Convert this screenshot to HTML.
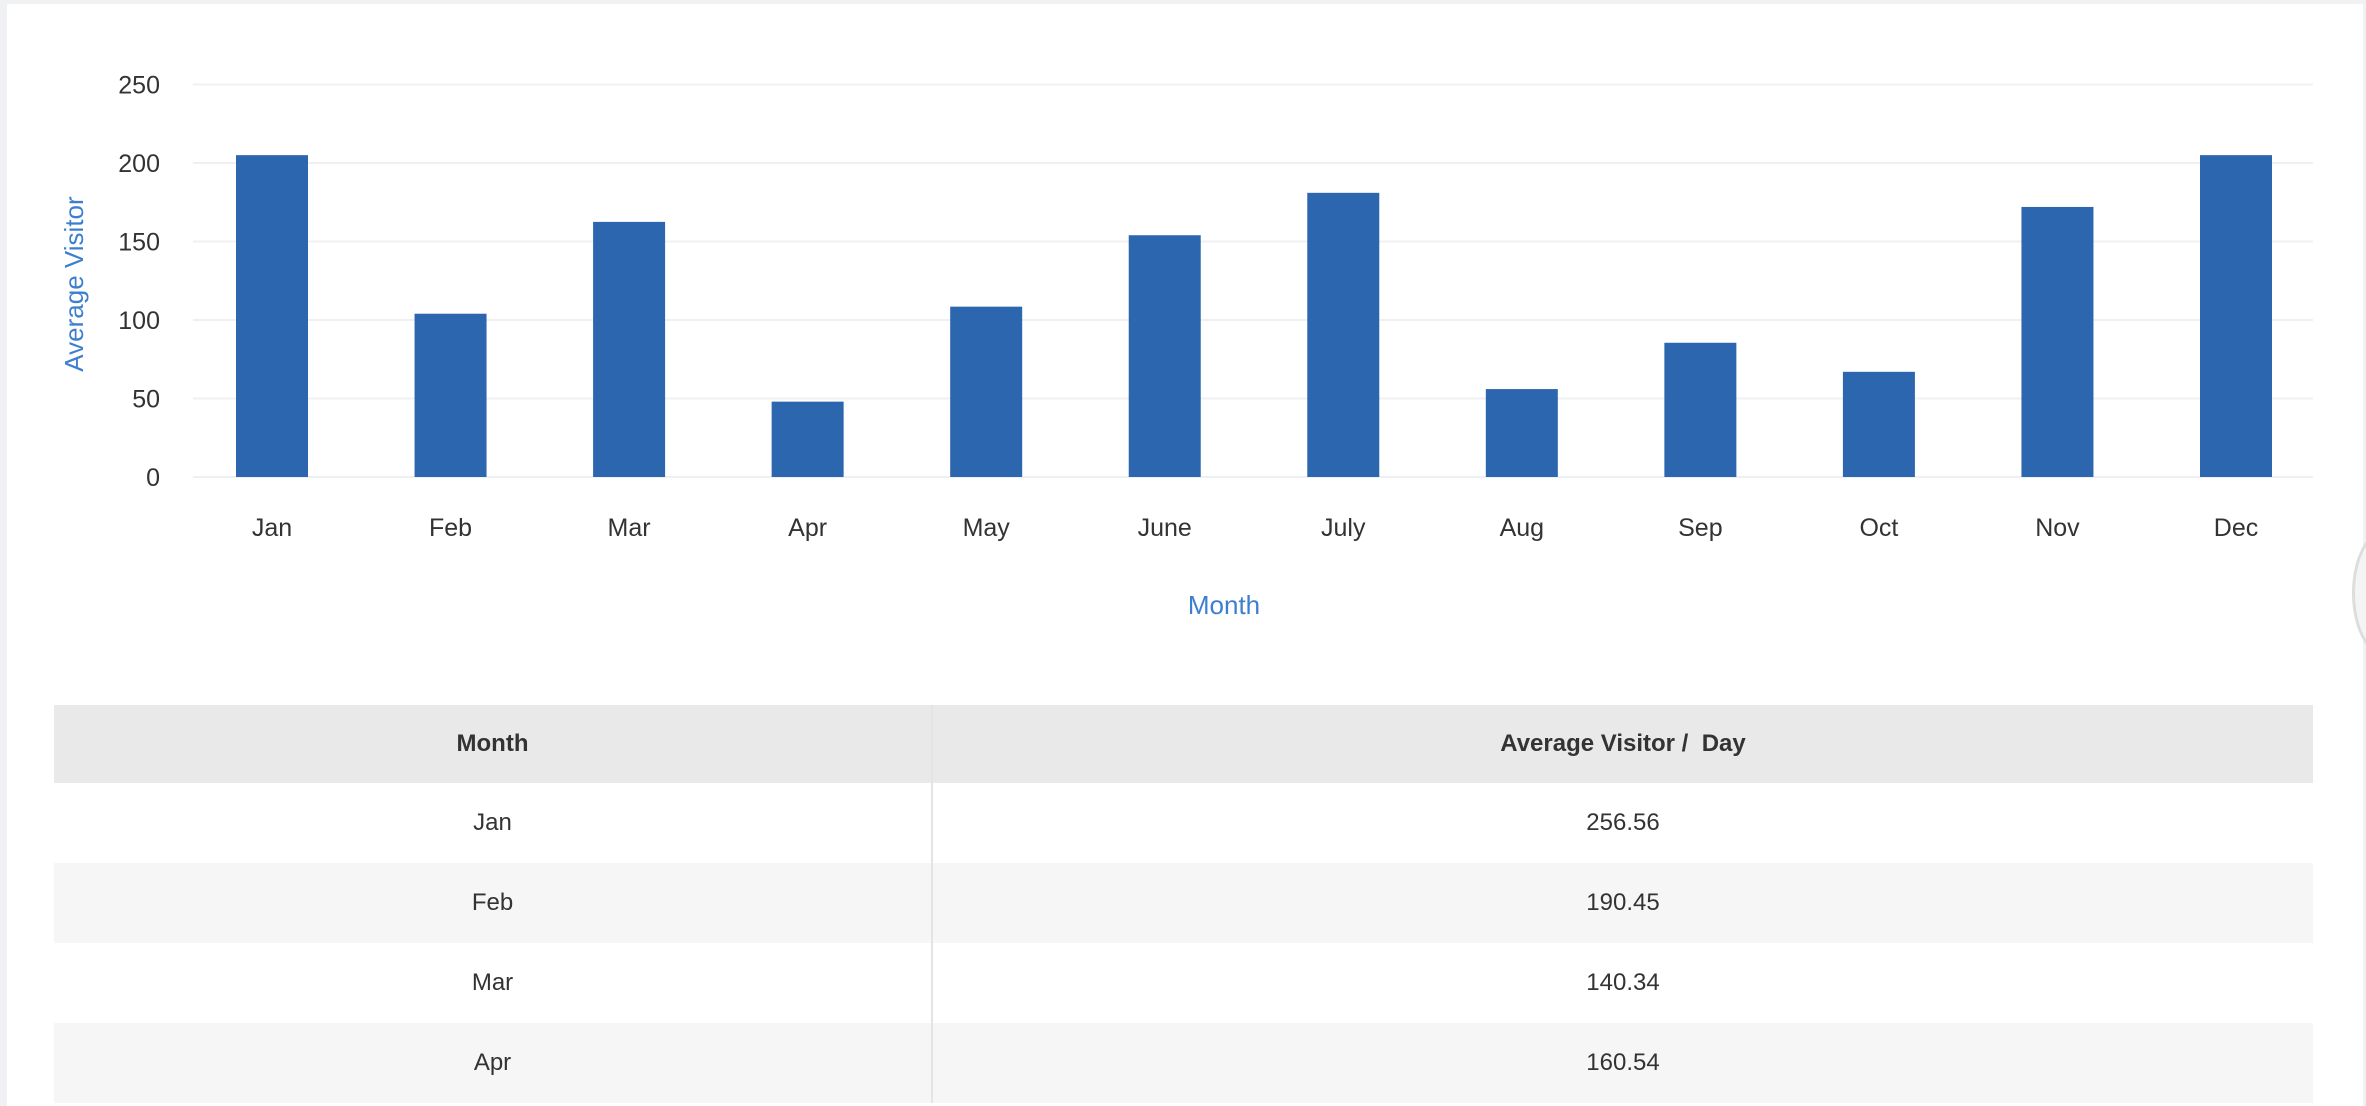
<!DOCTYPE html>
<html><head><meta charset="utf-8"><style>
body{margin:0;width:2366px;height:1106px;overflow:hidden;background:#fff;font-family:"Liberation Sans",sans-serif;position:relative}
#frame{position:absolute;left:0;top:0;width:2366px;height:1106px;box-sizing:border-box;border-left:7px solid #f0f1f3;border-top:4px solid #f0f1f3;border-right:3px solid #f0f1f3}
table{position:absolute;left:54px;top:705px;width:2259px;border-collapse:collapse;font-size:24px;color:#333}
td,th{text-align:center;padding:0;height:80px}
th{height:78px;background:#e9e9e9;font-weight:bold}
tr:nth-child(odd) td{background:#f6f6f6}
td:first-child,th:first-child{width:877px;border-right:2px solid #e4e4e4}
</style></head><body>
<div id="frame"></div>
<svg id="chart" width="2366" height="700" style="position:absolute;left:0;top:0"></svg>
<div style="position:absolute;left:2352px;top:530px;width:60px;height:120px;border-radius:50%;border:3px solid #ddd;background:#f4f4f4"></div>
<table>
<tr><th>Month</th><th>Average Visitor /&nbsp; Day</th></tr>
<tr><td>Jan</td><td>256.56</td></tr>
<tr><td>Feb</td><td>190.45</td></tr>
<tr><td>Mar</td><td>140.34</td></tr>
<tr><td>Apr</td><td>160.54</td></tr>
</table>
<script>
const categories=["Jan","Feb","Mar","Apr","May","June","July","Aug","Sep","Oct","Nov","Dec"];
const values=[205,104,162.5,48,108.5,154,181,56,85.5,67,172,205];
const yTicks=[0,50,100,150,200,250];
const NS="http://www.w3.org/2000/svg";
const svg=document.getElementById('chart');
const plotL=193,plotR=2313,y0=477,y1=84.5,yMax=250;
const firstC=272,lastC=2236,barW=72;
const y=v=>y0-(v/yMax)*(y0-y1);
const x=i=>firstC+i*(lastC-firstC)/(categories.length-1);
function mk(t,a){const e=document.createElementNS(NS,t);for(const k in a)e.setAttribute(k,a[k]);svg.appendChild(e);return e;}
yTicks.forEach(t=>{
 const g=mk('line',{x1:plotL,x2:plotR,y1:y(t),y2:y(t),stroke:'#eef0f3','stroke-width':2});
 
 
 const l=mk('text',{x:160,y:y(t)+9,'text-anchor':'end','font-size':25,fill:'#333','font-family':'Liberation Sans, sans-serif'});
 l.textContent=t;
 
 
});
categories.forEach((c,i)=>{
 const b=mk('rect',{x:x(i)-barW/2,y:y(values[i]),width:barW,height:y0-y(values[i]),fill:'#2c66ae'});
 
 
 const l=mk('text',{x:x(i),y:536,'text-anchor':'middle','font-size':25,fill:'#333','font-family':'Liberation Sans, sans-serif'});
 l.textContent=c;
 
 
});
const xt=mk('text',{x:1224,y:614,'text-anchor':'middle','font-size':26,fill:'#3d7fcf','font-family':'Liberation Sans, sans-serif'});
xt.textContent='Month';


const yt=mk('text',{x:0,y:0,'text-anchor':'middle','font-size':26,fill:'#3d7fcf','font-family':'Liberation Sans, sans-serif',transform:'translate(83,284) rotate(-90)'});
yt.textContent='Average Visitor';


</script>
</body></html>
